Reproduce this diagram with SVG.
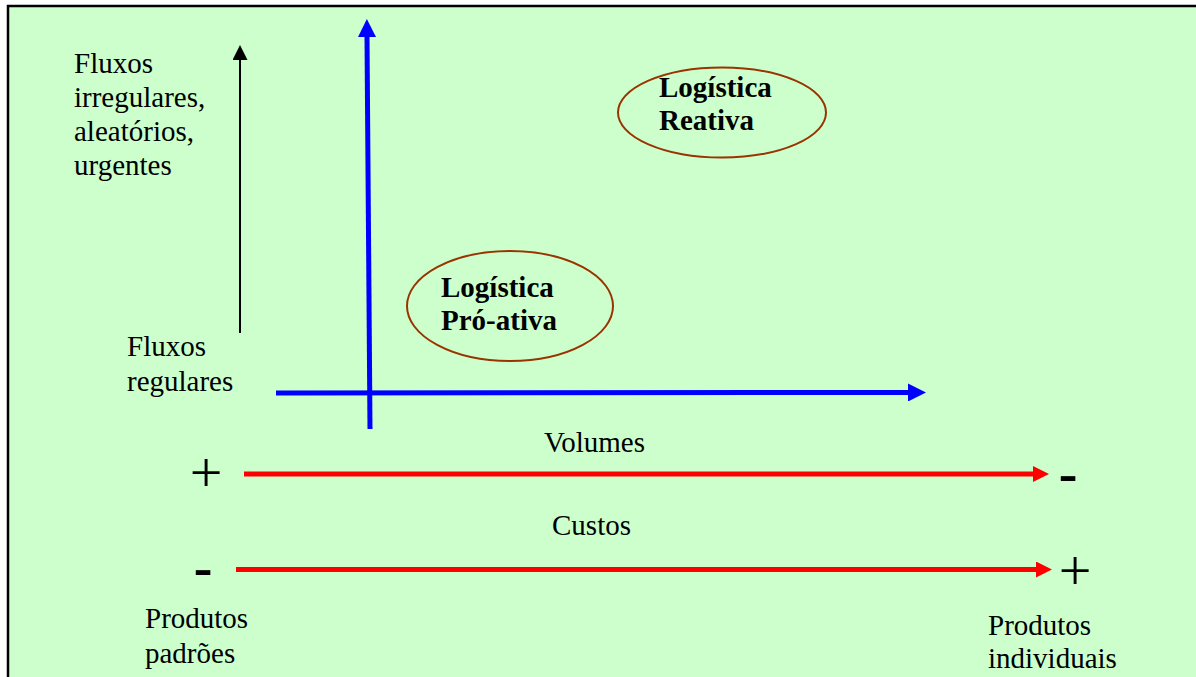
<svg xmlns="http://www.w3.org/2000/svg" width="1196" height="677" viewBox="0 0 1196 677">
<defs>
<style>
.t{font-family:"Liberation Serif","Times New Roman",serif;font-size:29px;fill:#000}
.b{font-weight:bold}
.sym{font-family:"Liberation Serif","Times New Roman",serif;fill:#000}
.ell{fill:none;stroke:#993300;stroke-width:2}
</style>
<marker id="hb" markerUnits="userSpaceOnUse" markerWidth="18" markerHeight="18" viewBox="0 0 18 18" refX="0" refY="9" orient="auto"><path d="M0,0 L18,9 L0,18 z" fill="#0000FF"/></marker>
<marker id="hk" markerUnits="userSpaceOnUse" markerWidth="15" markerHeight="15" viewBox="0 0 15 15" refX="0" refY="7.5" orient="auto"><path d="M0,0 L15,7.5 L0,15 z" fill="#000"/></marker>
<marker id="hr" markerUnits="userSpaceOnUse" markerWidth="16" markerHeight="16" viewBox="0 0 16 16" refX="0" refY="8" orient="auto"><path d="M0,0 L16,8 L0,16 z" fill="#FF0000"/></marker>
</defs>
<rect width="1196" height="677" fill="#fff"/>
<rect x="8" y="6" width="1200" height="700" fill="#CCFFCC" stroke="#000" stroke-width="2.5"/>
<g id="connectors">
<line x1="370" y1="429" x2="367" y2="37" stroke="#0000FF" stroke-width="5" marker-end="url(#hb)"/>
<line x1="276" y1="393" x2="908" y2="392.5" stroke="#0000FF" stroke-width="5" marker-end="url(#hb)"/>
<line x1="240" y1="333" x2="240" y2="60" stroke="#000" stroke-width="2" marker-end="url(#hk)"/>
<line x1="244" y1="474" x2="1033" y2="474" stroke="#FF0000" stroke-width="5" marker-end="url(#hr)"/>
<line x1="236" y1="569.5" x2="1036" y2="569.5" stroke="#FF0000" stroke-width="5" marker-end="url(#hr)"/>
</g>
<g id="reativa">
<ellipse class="ell" cx="722" cy="112.5" rx="104" ry="45"/>
<text class="t b" x="659" y="97">Logística</text>
<text class="t b" x="659" y="130">Reativa</text>
</g>
<g id="proativa">
<ellipse class="ell" cx="510" cy="306" rx="103" ry="55"/>
<text class="t b" x="441" y="297">Logística</text>
<text class="t b" x="441" y="330">Pró-ativa</text>
</g>
<g id="fluxos-irregulares">
<text class="t" x="74" y="73">Fluxos</text>
<text class="t" x="74" y="107">irregulares,</text>
<text class="t" x="74" y="141">aleatórios,</text>
<text class="t" x="74" y="175">urgentes</text>
</g>
<g id="fluxos-regulares">
<text class="t" x="127" y="356">Fluxos</text>
<text class="t" x="127" y="391">regulares</text>
</g>
<g id="volumes"><text class="t" x="594.5" y="452" text-anchor="middle">Volumes</text></g>
<g id="custos"><text class="t" x="591.5" y="535" text-anchor="middle">Custos</text></g>
<g id="produtos-padroes">
<text class="t" x="145" y="628">Produtos</text>
<text class="t" x="145" y="663">padrões</text>
</g>
<g id="produtos-individuais">
<text class="t" x="988" y="635">Produtos</text>
<text class="t" x="988" y="668">individuais</text>
</g>
<g id="signs">
<text class="sym" x="206" y="492" font-size="58" text-anchor="middle">+</text>
<text class="sym" x="1075" y="590" font-size="58" text-anchor="middle">+</text>
<text class="sym b" x="1068" y="492" font-size="56" text-anchor="middle">-</text>
<text class="sym b" x="203" y="586" font-size="56" text-anchor="middle">-</text>
</g>
</svg>
